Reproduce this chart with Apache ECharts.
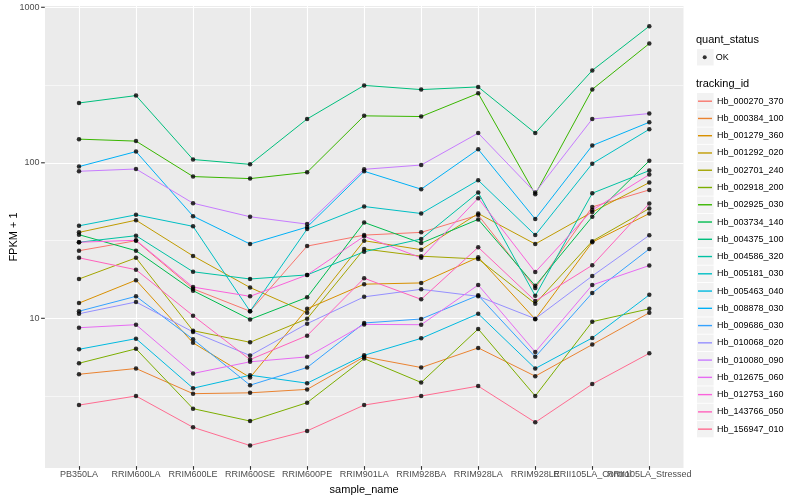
<!DOCTYPE html>
<html><head><meta charset="utf-8">
<script src="https://cdn.jsdelivr.net/npm/echarts@6/dist/echarts.min.js"></script>
<style>html,body{margin:0;padding:0;background:#fff}#c{width:800px;height:500px}</style>
</head><body><div id="c"></div>
<script>
// ---- data ----
const categories = ['PB350LA','RRIM600LA','RRIM600LE','RRIM600SE','RRIM600PE','RRIM901LA','RRIM928BA','RRIM928LA','RRIM928LE','RRII105LA_Control','RRII105LA_Stressed'];
const trackingIds = ['Hb_000270_370','Hb_000384_100','Hb_001279_360','Hb_001292_020','Hb_002701_240','Hb_002918_200','Hb_002925_030','Hb_003734_140','Hb_004375_100','Hb_004586_320','Hb_005181_030','Hb_005463_040','Hb_008878_030','Hb_009686_030','Hb_010068_020','Hb_010080_090','Hb_012675_060','Hb_012753_160','Hb_143766_050','Hb_156947_010'];
const quantStatus = ['OK'];
const yTickValues = [10, 100, 1000];
const yTickLabels = ['10', '100', '1000'];

const Hb_000270_370 = [26.8, 31.1, 15.2, 10.9, 28.7, 33.8, 35.2, 45.5, 15.4, 51.4, 66.2];
const Hb_000384_100 = [4.27, 4.65, 3.20, 3.24, 3.41, 5.53, 4.72, 6.32, 4.15, 6.64, 10.66];
const Hb_001279_360 = [12.3, 17.3, 6.81, 4.07, 11.3, 16.3, 16.6, 24.3, 9.68, 30.4, 46.6];
const Hb_001292_020 = [35.2, 42.2, 24.8, 15.5, 10.66, 31.1, 27.2, 46.6, 29.6, 47.6, 73.8];
const Hb_002701_240 = [17.6, 24.1, 8.16, 6.87, 9.75, 27.5, 24.7, 23.7, 12.2, 30.9, 50.2];
const Hb_002918_200 = [5.03, 6.23, 2.56, 2.13, 2.80, 5.39, 3.78, 8.37, 3.09, 9.33, 11.3];
const Hb_002925_030 = [140.8, 136.7, 80.7, 78.3, 86.0, 199, 197, 278, 62.1, 295, 583];
const Hb_003734_140 = [34.0, 26.8, 14.8, 9.65, 13.4, 40.8, 30.0, 42.7, 15.9, 44.4, 102];
const Hb_004375_100 = [241, 269, 104, 96.8, 190, 313, 294, 306, 154, 391, 755];
const Hb_004586_320 = [30.4, 33.5, 19.6, 17.6, 18.7, 26.4, 31.9, 63.7, 13.7, 63.0, 88.2];
const Hb_005181_030 = [38.8, 45.7, 38.5, 10.9, 37.0, 51.7, 46.6, 76.4, 33.8, 97.8, 163];
const Hb_005463_040 = [6.19, 7.25, 3.47, 4.21, 3.74, 5.66, 7.28, 10.5, 4.65, 7.33, 13.9];
const Hb_008878_030 = [93.6, 117, 44.8, 29.6, 38.1, 87.3, 66.9, 121, 42.9, 128, 181];
const Hb_009686_030 = [10.9, 13.6, 7.18, 3.63, 4.72, 9.15, 9.71, 13.8, 5.53, 14.3, 27.5];
const Hb_010068_020 = [10.5, 12.5, 8.01, 5.64, 9.06, 13.5, 15.1, 13.6, 9.75, 18.4, 33.7];
const Hb_010080_090 = [87.3, 90.3, 54.3, 44.4, 39.8, 89.9, 95.8, 154, 63.7, 190, 206];
const Hb_012675_060 = [8.53, 8.92, 4.32, 5.14, 5.53, 8.96, 8.92, 16.1, 5.95, 16.1, 21.5];
const Hb_012753_160 = [30.4, 31.3, 15.6, 13.6, 18.7, 33.2, 24.1, 58.5, 19.5, 49.0, 83.1];
const Hb_143766_050 = [24.1, 20.2, 10.2, 5.31, 7.58, 17.8, 13.0, 28.2, 12.7, 21.6, 54.1];
const Hb_156947_010 = [2.70, 3.09, 1.94, 1.48, 1.84, 2.70, 3.09, 3.58, 2.09, 3.69, 5.83];

const seriesValues = [Hb_000270_370, Hb_000384_100, Hb_001279_360, Hb_001292_020, Hb_002701_240, Hb_002918_200, Hb_002925_030, Hb_003734_140, Hb_004375_100, Hb_004586_320, Hb_005181_030, Hb_005463_040, Hb_008878_030, Hb_009686_030, Hb_010068_020, Hb_010080_090, Hb_012675_060, Hb_012753_160, Hb_143766_050, Hb_156947_010];

// ---- style ----
const palette = ['#F8766D','#EA8331','#D89000','#C09B00','#A3A500','#7CAE00','#39B600','#00BB4E','#00BF7D','#00C1A3','#00BFC4','#00BAE0','#00B0F6','#35A2FF','#9590FF','#C77CFF','#E76BF3','#FA62DB','#FF62BC','#FF6C91'];
const FONT = '"Liberation Sans", Arial, Helvetica, sans-serif';
const Y_MIN = 1.09, Y_MAX = 1019;
const minorBreaks = [Math.sqrt(10), Math.sqrt(1000), Math.sqrt(100000)];
const PANEL_LEFT = 44.8;

const chart = echarts.init(document.getElementById('c'), null, {renderer: 'canvas'});

const lineSeries = trackingIds.map((id, k) => ({
  name: id, type: 'line', xAxisIndex: 1, yAxisIndex: 1,
  data: seriesValues[k], symbol: 'none', showSymbol: false,
  lineStyle: {width: 1, color: palette[k]}, itemStyle: {color: palette[k]},
  z: 3, emphasis: {disabled: true}, silent: true
}));

const points = [];
seriesValues.forEach(vals => vals.forEach((v, i) => points.push([i, v])));

const ROW0 = 101.2, ROWH = 17.26;
const keyRects = trackingIds.map((id, k) => ({
  type: 'rect', shape: {x: 697, y: ROW0 + k * ROWH - 8.2, width: 16.6, height: 16.4},
  style: {fill: '#F2F2F2'}, silent: true, z: 0
}));
keyRects.push({type: 'rect', shape: {x: 697, y: 57.3 - 8.2, width: 16.6, height: 16.4}, style: {fill: '#F2F2F2'}, silent: true, z: 0});

const gridLines = yTickValues.map(v => ({yAxis: v, lineStyle: {color: '#ffffff', width: 1.1, type: 'solid'}}))
  .concat(minorBreaks.map(v => ({yAxis: v, lineStyle: {color: '#ffffff', width: 0.55, type: 'solid'}})));

const option = {
  animation: false,
  backgroundColor: '#ffffff',
  textStyle: {fontFamily: FONT},
  title: [
    {text: 'quant_status', left: 696, top: 34, padding: 0, textStyle: {fontSize: 11, fontWeight: 'normal', color: '#000', fontFamily: FONT}},
    {text: 'tracking_id', left: 696, top: 78, padding: 0, textStyle: {fontSize: 11, fontWeight: 'normal', color: '#000', fontFamily: FONT}}
  ],
  graphic: keyRects,
  legend: [
    {data: quantStatus, orient: 'vertical', left: 702.7, top: 48.8, padding: 0, icon: 'circle', itemWidth: 4, itemHeight: 4, itemGap: 0, selectedMode: false,
     textStyle: {fontSize: 9, color: '#000', lineHeight: 17, padding: [0, 0, 0, 4], fontFamily: FONT}},
    {data: trackingIds, orient: 'vertical', left: 698, top: ROW0 - ROWH / 2, padding: 0, icon: 'rect', itemWidth: 14, itemHeight: 1.4, itemGap: 0, selectedMode: false,
     textStyle: {fontSize: 9, color: '#000', lineHeight: ROWH, fontFamily: FONT}}
  ],
  grid: [
    {left: PANEL_LEFT, right: 116.5, top: 6, bottom: 32, show: true, backgroundColor: '#EBEBEB', borderWidth: 0},
    {left: 79, right: 150.7, top: 6, bottom: 32}
  ],
  xAxis: [
    {gridIndex: 0, type: 'value', min: 0, max: 1, show: false, splitLine: {show: false}},
    {gridIndex: 1, type: 'category', data: categories, boundaryGap: false,
     axisLine: {show: false},
     axisTick: {show: true, interval: 0, length: 3.7, lineStyle: {color: '#333333', width: 1.1}},
     axisLabel: {interval: 0, color: '#4D4D4D', fontSize: 9, margin: 4, hideOverlap: false, fontFamily: FONT},
     splitLine: {show: true, interval: 0, lineStyle: {color: '#ffffff', width: 1.1}},
     name: 'sample_name', nameLocation: 'middle', nameGap: 14.5,
     nameTextStyle: {color: '#000', fontSize: 11, fontFamily: FONT}}
  ],
  yAxis: [
    {gridIndex: 0, type: 'log', logBase: 10, min: Y_MIN, max: Y_MAX,
     axisLine: {show: false}, axisTick: {show: false}, axisLabel: {show: false}, splitLine: {show: false},
     name: 'FPKM + 1', nameLocation: 'middle', nameGap: 26, nameRotate: 90,
     nameTextStyle: {color: '#000', fontSize: 11, fontFamily: FONT}},
    {gridIndex: 1, type: 'log', logBase: 10, min: Y_MIN, max: Y_MAX, show: false, splitLine: {show: false}}
  ],
  series: [
    {name: '_grid', type: 'line', xAxisIndex: 0, yAxisIndex: 0, data: [[0.5, 10]], symbol: 'none', showSymbol: false,
     lineStyle: {opacity: 0}, z: 1, silent: true,
     markLine: {z: 1, silent: true, symbol: ['none', 'none'], label: {show: false}, emphasis: {disabled: true}, data: gridLines}},
    ...lineSeries,
    {name: 'OK', type: 'scatter', xAxisIndex: 1, yAxisIndex: 1, data: points, symbol: 'circle', symbolSize: 4.5,
     itemStyle: {color: '#000000'}, z: 4, silent: true, emphasis: {disabled: true}}
  ]
};
chart.setOption(option);

// y-axis ticks and labels placed through the log scale of yAxis 0
const tickGraphics = [];
yTickValues.forEach((v, i) => {
  const py = chart.convertToPixel({yAxisIndex: 0}, v);
  tickGraphics.push(
    {type: 'line', shape: {x1: PANEL_LEFT - 3.7, y1: py, x2: PANEL_LEFT, y2: py}, style: {stroke: '#333333', lineWidth: 1.1}, silent: true},
    {type: 'text', x: PANEL_LEFT - 5.2, y: py, silent: true,
     style: {text: yTickLabels[i], align: 'right', verticalAlign: 'middle', fill: '#4D4D4D', fontSize: 9, fontFamily: FONT}}
  );
});
chart.setOption({graphic: keyRects.concat(tickGraphics)});
</script></body></html>
